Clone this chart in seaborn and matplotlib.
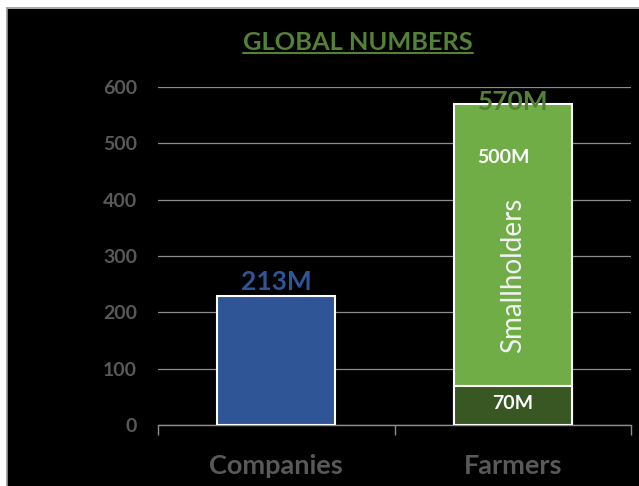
import matplotlib
matplotlib.use("Agg")
import matplotlib.pyplot as plt
import seaborn as sns
import pandas as pd
from matplotlib.patches import Rectangle
from matplotlib.lines import Line2D

# ---- data ----
categories = ["Companies", "Farmers"]
totals = [229, 570]            # full bar heights
base_values = [0, 70]          # bottom segment (Farmers: 70M)
top_labels = ["213M", "570M"]
segment_label_top = "500M"
segment_label_bottom = "70M"
segment_name = "Smallholders"
yticks = [0, 100, 200, 300, 400, 500, 600]
title = "GLOBAL NUMBERS"

sns.set_theme(style="dark")
plt.rcParams["font.family"] = ["Lato", "DejaVu Sans"]

fig = plt.figure(figsize=(6.39, 4.86), dpi=100)
fig.patch.set_facecolor("white")
W, H = 639, 486
fig.add_artist(Rectangle((7 / W, 0), 1, (H - 9) / H, transform=fig.transFigure,
                         facecolor="black", edgecolor="none", zorder=-10))
fig.add_artist(Line2D([6.5 / W, 6.5 / W], [0, (H - 8.5) / H], transform=fig.transFigure,
                      color="#9a9a9a", lw=1.2, zorder=-9))
fig.add_artist(Line2D([6.5 / W, 1], [(H - 8.5) / H, (H - 8.5) / H], transform=fig.transFigure,
                      color="#9a9a9a", lw=1.2, zorder=-9))

left, right = 158 / W, 631 / W
bottom, top = (H - 425) / H, (H - 87) / H
ax = fig.add_axes([left, bottom, right - left, top - bottom])
ax.set_facecolor("black")

df_tot = pd.DataFrame({"cat": categories, "val": totals})
df_base = pd.DataFrame({"cat": categories, "val": base_values})

blue = "#2F5597"
lgreen = "#70AD47"
dgreen = "#385723"

sns.barplot(data=df_tot, x="cat", y="val", hue="cat", palette=[blue, lgreen],
            saturation=1, width=0.5, edgecolor="white", linewidth=1.5,
            legend=False, ax=ax, zorder=3)
sns.barplot(data=df_base, x="cat", y="val", hue="cat", palette=[blue, dgreen],
            saturation=1, width=0.5, edgecolor="white", linewidth=1.5,
            legend=False, ax=ax, zorder=4)
for p in ax.patches:
    if p.get_height() == 0:
        p.set_visible(False)

ax.set_ylim(0, 600)
ax.set_xlim(-0.5, 1.5)
ax.set_yticks(yticks)
ax.set_xlabel("")
ax.set_ylabel("")
for s in ["top", "right", "left"]:
    ax.spines[s].set_visible(False)
ax.spines["bottom"].set_color("#8c8c8c")
ax.spines["bottom"].set_linewidth(1.0)
ax.grid(axis="y", color="#8c8c8c", lw=0.9, zorder=0)
ax.grid(axis="x", visible=False)
ax.set_axisbelow(True)

ax.tick_params(axis="y", length=0, pad=15, labelsize=14, labelcolor="#595959")
for t in ax.get_yticklabels():
    t.set_fontweight("bold")
ax.set_xticks([0, 1])
ax.set_xticklabels(categories)
ax.tick_params(axis="x", which="major", length=0, pad=21, labelsize=19.5, labelcolor="#595959")
for t in ax.get_xticklabels():
    t.set_fontweight("bold")
ax.set_xticks([-0.5, 0.5, 1.5], minor=True)
ax.tick_params(axis="x", which="minor", length=7, width=1.0, color="#8c8c8c", bottom=True)

# labels
ax.text(0, totals[0] + 3, top_labels[0], ha="center", va="bottom", fontsize=19,
        color="#2F5597", fontweight="bold", clip_on=False, zorder=6)
ax.text(1, totals[1] + 3, top_labels[1], ha="center", va="center", fontsize=19,
        color="#548235", fontweight="bold", clip_on=False, zorder=6)
ax.text(0.96, 474, segment_label_top, ha="center", va="center", fontsize=14,
        color="white", fontweight="bold", zorder=6)
ax.text(1.0, 265, segment_name, ha="center", va="center", fontsize=20,
        color="#f2f2f2", rotation=90, zorder=6)
ax.text(1.0, 39, segment_label_bottom, ha="center", va="center", fontsize=14,
        color="white", fontweight="bold", zorder=6)

# title with underline
tt = fig.text(358 / W, 1 - 42 / H, title, ha="center", va="center", fontsize=18.3,
              color="#548235", fontweight="bold")
fig.canvas.draw()
bb = tt.get_window_extent().transformed(fig.transFigure.inverted())
uy = 1 - 53 / H
fig.add_artist(Line2D([bb.x0, bb.x1], [uy, uy], transform=fig.transFigure,
                      color="#548235", lw=1.5))

fig.savefig("out.png", dpi=100, facecolor=fig.get_facecolor())
